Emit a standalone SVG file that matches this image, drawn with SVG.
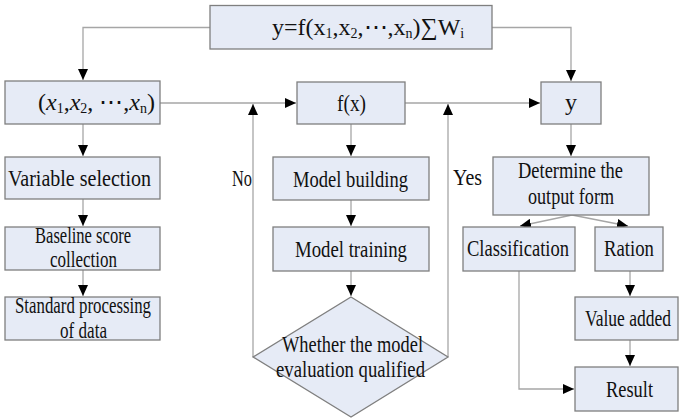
<svg xmlns="http://www.w3.org/2000/svg" width="680" height="418" viewBox="0 0 680 418">
<style>
.box{fill:#e6ebf6;stroke:#7f7f7f;stroke-width:1.3}
.t{font-family:'Liberation Serif','Times New Roman','DejaVu Serif',serif;font-size:24px;fill:#111}
.c{fill:none;stroke:#a6a6a6;stroke-width:1.3}
</style>
<defs>
<marker id="a" markerUnits="userSpaceOnUse" markerWidth="12" markerHeight="10" refX="11" refY="5" orient="auto">
<path d="M0,0 L11,5 L0,10 Z" fill="#000"/>
</marker>
</defs>
<g id="connectors">
<path class="c" d="M210,27.5 H83 V80" marker-end="url(#a)"/>
<path class="c" d="M492,27.5 H571 V81" marker-end="url(#a)"/>
<path class="c" d="M160,103 H296" marker-end="url(#a)"/>
<path class="c" d="M405,103 H540" marker-end="url(#a)"/>
<path class="c" d="M253,357 V104" marker-end="url(#a)"/>
<path class="c" d="M448,357 V104" marker-end="url(#a)"/>
<path class="c" d="M83,124 V156" marker-end="url(#a)"/>
<path class="c" d="M83,199 V226" marker-end="url(#a)"/>
<path class="c" d="M83,270 V296" marker-end="url(#a)"/>
<path class="c" d="M351,124 V156" marker-end="url(#a)"/>
<path class="c" d="M351,200 V226" marker-end="url(#a)"/>
<path class="c" d="M351,271 V296" marker-end="url(#a)"/>
<path class="c" d="M571,124 V156" marker-end="url(#a)"/>
<path class="c" d="M572,215 L520,226" marker-end="url(#a)"/>
<path class="c" d="M572,215 L628,226" marker-end="url(#a)"/>
<path class="c" d="M630,271 V296" marker-end="url(#a)"/>
<path class="c" d="M630,340 V366" marker-end="url(#a)"/>
<path class="c" d="M519,271 V389 H574" marker-end="url(#a)"/>
</g>
<g id="formula">
<rect class="box" x="210" y="5.5" width="282" height="43.5"/>
<text class="t" x="272" y="35" font-size="22">y=f(x<tspan font-size="14" dy="3">1</tspan><tspan dy="-3">,x</tspan><tspan font-size="14" dy="3">2</tspan><tspan dy="-3">,⋯,x</tspan><tspan font-size="14" dy="3">n</tspan><tspan dy="-3">)∑W</tspan><tspan font-size="14" dy="3">i</tspan></text>
</g>
<g id="inputs">
<rect class="box" x="5" y="81" width="155" height="43"/>
<text class="t" x="38" y="110" font-size="22">(<tspan font-style="italic">x</tspan><tspan font-size="14" dy="3">1</tspan><tspan dy="-3">,</tspan><tspan font-style="italic">x</tspan><tspan font-size="14" dy="3">2</tspan><tspan dy="-3">, ⋯,</tspan><tspan font-style="italic">x</tspan><tspan font-size="14" dy="3">n</tspan><tspan dy="-3">)</tspan></text>
</g>
<g id="varsel">
<rect class="box" x="5" y="157" width="155" height="42"/>
<text class="t" x="8" y="186" textLength="143" lengthAdjust="spacingAndGlyphs">Variable selection</text>
</g>
<g id="baseline">
<rect class="box" x="5" y="227" width="155" height="43"/>
<text class="t" x="35" y="243" textLength="96" lengthAdjust="spacingAndGlyphs">Baseline score</text>
<text class="t" x="50" y="267" textLength="67" lengthAdjust="spacingAndGlyphs">collection</text>
</g>
<g id="standard">
<rect class="box" x="5" y="297" width="155" height="43"/>
<text class="t" x="15" y="313" textLength="136" lengthAdjust="spacingAndGlyphs">Standard processing</text>
<text class="t" x="60" y="338" textLength="47" lengthAdjust="spacingAndGlyphs">of data</text>
</g>
<g id="fx">
<rect class="box" x="297" y="82" width="108" height="42"/>
<text class="t" x="337" y="111" textLength="29" lengthAdjust="spacingAndGlyphs">f(x)</text>
</g>
<g id="building">
<rect class="box" x="273" y="157" width="156" height="43"/>
<text class="t" x="293" y="187" textLength="115" lengthAdjust="spacingAndGlyphs">Model building</text>
</g>
<g id="training">
<rect class="box" x="273" y="227" width="156" height="44"/>
<text class="t" x="295" y="257" textLength="112" lengthAdjust="spacingAndGlyphs">Model training</text>
</g>
<g id="decision">
<polygon class="box" points="351,297 448,357 351,417 253,357"/>
<text class="t" x="282" y="352" textLength="141" lengthAdjust="spacingAndGlyphs">Whether the model</text>
<text class="t" x="276" y="377" textLength="149" lengthAdjust="spacingAndGlyphs">evaluation qualified</text>
</g>
<g id="labels">
<text class="t" x="232" y="186" textLength="20" lengthAdjust="spacingAndGlyphs">No</text>
<text class="t" x="453" y="185" textLength="29" lengthAdjust="spacingAndGlyphs">Yes</text>
</g>
<g id="y">
<rect class="box" x="541" y="82" width="60" height="42"/>
<text class="t" x="571" y="110" text-anchor="middle">y</text>
</g>
<g id="determine">
<rect class="box" x="493" y="157" width="156" height="58"/>
<text class="t" x="518" y="178" textLength="105" lengthAdjust="spacingAndGlyphs">Determine the</text>
<text class="t" x="528" y="204" textLength="86" lengthAdjust="spacingAndGlyphs">output form</text>
</g>
<g id="classification">
<rect class="box" x="463" y="227" width="112" height="44"/>
<text class="t" x="467" y="256" textLength="102" lengthAdjust="spacingAndGlyphs">Classification</text>
</g>
<g id="ration">
<rect class="box" x="595" y="227" width="68" height="44"/>
<text class="t" x="604" y="256" textLength="50" lengthAdjust="spacingAndGlyphs">Ration</text>
</g>
<g id="value">
<rect class="box" x="575" y="297" width="103" height="43"/>
<text class="t" transform="translate(585,326) scale(0.73,1)" x="0" y="0">Value added</text>
</g>
<g id="result">
<rect class="box" x="575" y="367" width="103" height="44"/>
<text class="t" x="606" y="397" textLength="47" lengthAdjust="spacingAndGlyphs">Result</text>
</g>
</svg>
